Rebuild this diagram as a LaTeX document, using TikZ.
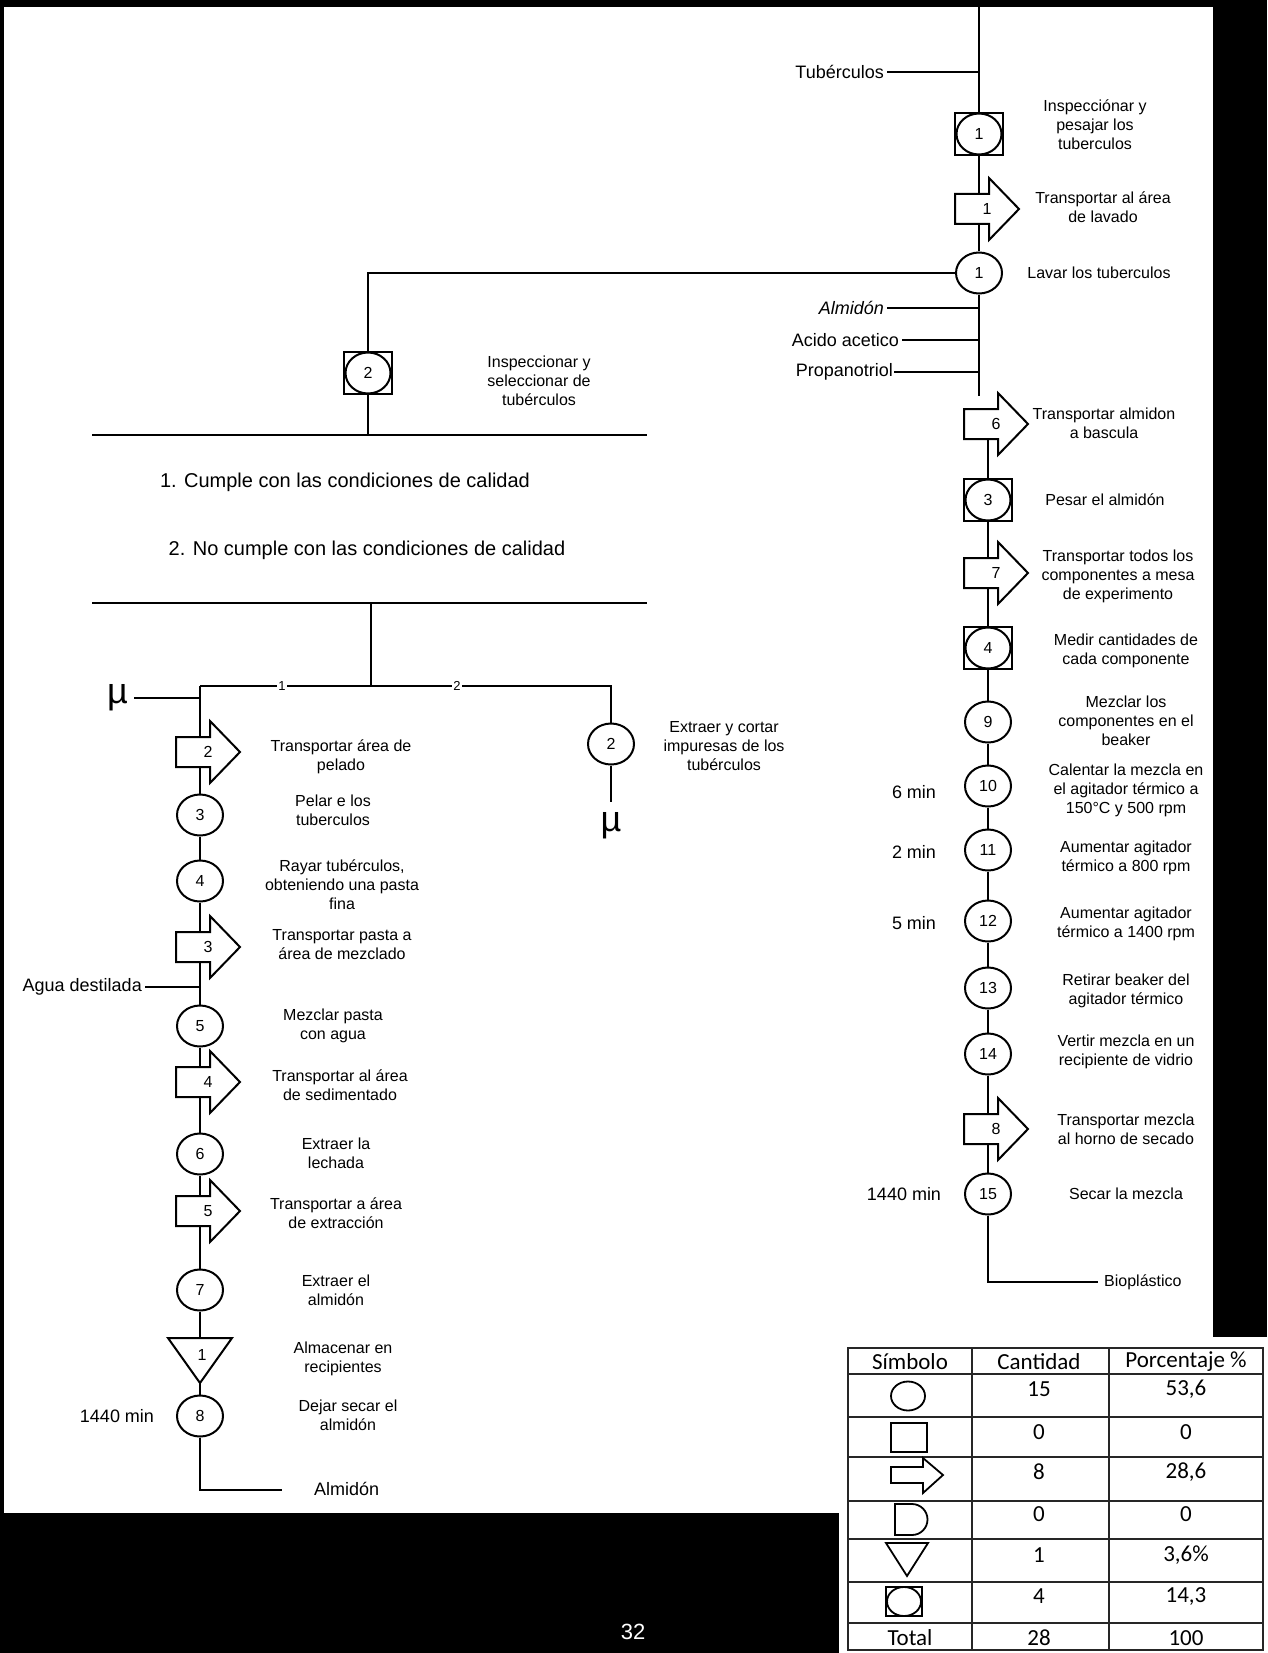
\documentclass[tikz,border=0pt]{standalone}
\usepackage{fontspec}
\setmainfont{Liberation Sans}
\newfontfamily\tablefont{Carlito}
\usetikzlibrary{shapes.geometric}
\tikzset{
  ln/.style={line width=2pt},
  shp/.style={draw, line width=2pt, fill=white, line join=miter},
  opc/.style={ellipse, draw, line width=2pt, fill=white, minimum width=46pt, minimum height=41pt, inner sep=0pt, font=\fontsize{16}{19}\selectfont},
  insq/.style={rectangle, draw, line width=2pt, fill=white, minimum width=48pt, minimum height=42pt, inner sep=0pt},
  desc/.style={align=center, font=\fontsize{16}{19}\selectfont, inner sep=2pt},
  lab/.style={font=\fontsize{18}{21}\selectfont, inner sep=3pt},
  num/.style={font=\fontsize{16}{19}\selectfont, inner sep=0pt},
  brnum/.style={font=\fontsize{13}{15}\selectfont, fill=white, inner sep=1pt},
  big/.style={font=\fontsize{36}{40}\selectfont, inner sep=2pt},
  cond/.style={font=\fontsize{20}{24}\selectfont},
  tbl/.style={font=\tablefont\fontsize{23}{27}\selectfont, inner sep=0pt},
  tline/.style={line width=1.6pt, draw=black!85},
  tsym/.style={line width=1.8pt},
}
\newcommand{\transp}[4]{%
  \draw[shp] ({#2-24},{#3-15}) -- ({#2+10},{#3-15}) -- ({#2+10},{#3-31}) -- ({#2+40},{#3}) -- ({#2+10},{#3+31}) -- ({#2+10},{#3+15}) -- ({#2-24},{#3+15}) -- cycle;
  \node[inner sep=0pt, minimum width=0pt, minimum height=30pt] (#1) at (#2,#3) {};
  \node[num] (#1n) at ({#2+8},{#3}) {#4};
}
\newcommand{\inspop}[4]{%
  \node[insq] (#1) at (#2,#3) {};
  \node[opc, minimum width=45pt, minimum height=41pt] (#1c) at (#1) {#4};
}
\begin{document}
\begin{tikzpicture}[x=1pt,y=-1pt]
\useasboundingbox (0,0) rectangle (1267,1653);
\fill[black] (0,0) rectangle (1267,1653);
\fill[white] (4,7) rectangle (1213,1513);
\fill[white] (839,1337) rectangle (1267,1653);

% ---------------- right column (upper) ----------------
\coordinate (top) at (979,7);
\inspop{s1}{979}{134}{1}
\transp{a1}{979}{209}{1}
\node[opc] (c1) at (979,273) {1};
\coordinate (rend) at (979,396);

\node[lab, anchor=east] (tub) at (887,72) {Tubérculos};
\node[lab, anchor=east] (alm) at (887,308) {\itshape Almidón};
\node[lab, anchor=east] (aac) at (902,340) {Acido acetico};
\node[lab, anchor=east, inner sep=1pt] (pro) at (894,372) {Propanotriol};

\draw[ln] (top) -- (s1.north);
\draw[ln] (s1.south) -- (a1.north);
\draw[ln] (a1.south) -- (c1.north);
\draw[ln] (c1.south) -- (rend);
\draw[ln] (tub.east) -- (tub.east -| c1);
\draw[ln] (alm.east) -- (alm.east -| c1);
\draw[ln] (aac.east) -- (aac.east -| c1);
\draw[ln] (pro.east) -- (pro.east -| c1);

\node[desc] (ts1) at (1095,125) {Inspecciónar y\\pesajar los\\tuberculos};
\node[desc] (ta1) at (1103,207) {Transportar al área\\de lavado};
\node[desc] (tc1) at (1099,273) {Lavar los tuberculos};

% ---------------- right column (lower) ----------------
\transp{a6}{988}{424}{6}
\inspop{s3}{988}{500}{3}
\transp{a7}{988}{573}{7}
\inspop{s4}{988}{648}{4}
\node[opc] (c9) at (988,722) {9};
\node[opc] (c10) at (988,786) {10};
\node[opc] (c11) at (988,850) {11};
\node[opc] (c12) at (988,921) {12};
\node[opc] (c13) at (988,988) {13};
\node[opc] (c14) at (988,1054) {14};
\transp{a8}{988}{1129}{8}
\node[opc] (c15) at (988,1194) {15};
\coordinate (bioc) at (1098,1282);
\node[desc, anchor=west] (bio) at (1102,1282) {Bioplástico};

\draw[ln] (a6.south) -- (s3.north);
\draw[ln] (s3.south) -- (a7.north);
\draw[ln] (a7.south) -- (s4.north);
\draw[ln] (s4.south) -- (c9.north);
\draw[ln] (c9.south) -- (c10.north);
\draw[ln] (c10.south) -- (c11.north);
\draw[ln] (c11.south) -- (c12.north);
\draw[ln] (c12.south) -- (c13.north);
\draw[ln] (c13.south) -- (c14.north);
\draw[ln] (c14.south) -- (a8.north);
\draw[ln] (a8.south) -- (c15.north);
\draw[ln] (c15.south) |- (bioc);

\node[desc] (ta6) at (1104,423) {Transportar almidon\\a bascula};
\node[desc] (ts3) at (1105,500) {Pesar el almidón};
\node[desc] (ta7) at (1118,576) {Transportar todos los\\componentes a mesa\\de experimento};
\node[desc] (ts4) at (1126,651) {Medir cantidades de\\cada componente};
\node[desc] (tc9) at (1126,721) {Mezclar los\\componentes en el\\beaker};
\node[desc] (tc10) at (1126,790) {Calentar la mezcla en\\el agitador térmico a\\150°C y 500 rpm};
\node[desc] (tc11) at (1126,858) {Aumentar agitador\\térmico a 800 rpm};
\node[desc] (tc12) at (1126,924) {Aumentar agitador\\térmico a 1400 rpm};
\node[desc] (tc13) at (1126,991) {Retirar beaker del\\agitador térmico};
\node[desc] (tc14) at (1126,1052) {Vertir mezcla en un\\recipiente de vidrio};
\node[desc] (ta8) at (1126,1129) {Transportar mezcla\\al horno de secado};
\node[desc] (tc15) at (1126,1194) {Secar la mezcla};
\node[lab] (m10) at (914,792) {6 min};
\node[lab] (m11) at (914,852) {2 min};
\node[lab] (m12) at (914,923) {5 min};
\node[lab] (m15) at (904,1194) {1440 min};

% ---------------- middle: inspection and decision ----------------
\inspop{s2}{368}{373}{2}
\coordinate (h1a) at (92,435);
\coordinate (h1b) at (647,435);
\coordinate (h2a) at (92,603);
\coordinate (h2b) at (647,603);
\coordinate (br) at (371,686);
\coordinate (bl) at (200,686);
\coordinate (brr) at (611,686);
\draw[ln] (c1.west) -| (s2.north);
\draw[ln] (s2.south) -- (s2.south |- h1a);
\draw[ln] (h1a) -- (h1b);
\draw[ln] (h2a) -- (h2b);
\draw[ln] (br |- h2a) -- (br);
\node[desc] (ts2) at (539,381) {Inspeccionar y\\seleccionar de\\tubérculos};
\node[cond] (cond1) at (345,482) {1. Cumple con las condiciones de calidad};
\node[cond] (cond2) at (367,550) {2. No cumple con las condiciones de calidad};

\node[opc] (r2) at (611,744) {2};
\node[big] (mu2) at (611,826) {µ};
\draw[ln] (bl) -- (brr) -- (r2.north);
\draw[ln, shorten >=9pt] (r2.south) -- (mu2.north);
\node[brnum] (b1) at (282,686) {1};
\node[brnum] (b2) at (457,686) {2};
\node[desc] (tr2) at (724,746) {Extraer y cortar\\impuresas de los\\tubérculos};

% ---------------- left column ----------------
\node[big, anchor=east, inner sep=6pt] (mu1) at (134,698) {µ};
\draw[ln] (mu1.east) -- (mu1.east -| bl);
\transp{a2}{200}{752}{2}
\node[opc] (c3) at (200,815) {3};
\node[opc] (c4) at (200,881) {4};
\transp{a3}{200}{947}{3}
\node[lab, anchor=east] (agua) at (145,987) {Agua destilada};
\node[opc] (c5) at (200,1026) {5};
\transp{a4}{200}{1082}{4}
\node[opc] (c6) at (200,1154) {6};
\transp{a5}{200}{1211}{5}
\node[opc] (c7) at (200,1290) {7};
\draw[shp] (168,1338) -- (232,1338) -- (200,1383) -- cycle;
\coordinate (trtop) at (200,1338);
\coordinate (trbot) at (200,1383);
\node[num] (tr1) at (202,1355) {1};
\node[opc] (c8) at (200,1416) {8};
\coordinate (almc) at (282,1490);
\node[lab, anchor=west] (almt) at (311,1489) {Almidón};

\draw[ln] (bl) -- (a2.north);
\draw[ln] (a2.south) -- (c3.north);
\draw[ln] (c3.south) -- (c4.north);
\draw[ln] (c4.south) -- (a3.north);
\draw[ln] (a3.south) -- (c5.north);
\draw[ln] (agua.east) -- (agua.east -| c5);
\draw[ln] (c5.south) -- (a4.north);
\draw[ln] (a4.south) -- (c6.north);
\draw[ln] (c6.south) -- (a5.north);
\draw[ln] (a5.south) -- (c7.north);
\draw[ln] (c7.south) -- (trtop);
\draw[ln] (trbot) -- (c8.north);
\draw[ln] (c8.south) |- (almc);

\node[desc] (ta2) at (341,757) {Transportar área de\\pelado};
\node[desc] (tc3) at (333,810) {Pelar e los\\tuberculos};
\node[desc] (tc4) at (342,885) {Rayar tubérculos,\\obteniendo una pasta\\fina};
\node[desc] (ta3) at (342,945) {Transportar pasta a\\área de mezclado};
\node[desc] (tc5) at (333,1026) {Mezclar pasta\\con agua};
\node[desc] (ta4) at (340,1085) {Transportar al área\\de sedimentado};
\node[desc] (tc6) at (336,1153) {Extraer la\\lechada};
\node[desc] (ta5) at (336,1213) {Transportar a área\\de extracción};
\node[desc] (tc7) at (336,1290) {Extraer el\\almidón};
\node[desc] (ttr) at (343,1359) {Almacenar en\\recipientes};
\node[desc] (tc8) at (348,1415) {Dejar secar el\\almidón};
\node[lab] (m8) at (117,1416) {1440 min};

% page number
\node[font=\fontsize{22}{26}\selectfont, text=white] (pg) at (633,1632) {32};

% ---------------- summary table ----------------
\draw[tline] (848,1348) rectangle (1263,1650);
\foreach \xx in {972,1109} \draw[tline] (\xx,1348) -- (\xx,1650);
\foreach \yy in {1374,1417,1457,1501,1539,1582,1623} \draw[tline] (848,\yy) -- (1263,\yy);
\node[tbl] (h1) at (910,1362) {Símbolo};
\node[tbl] (h2) at (1039,1362) {Cantidad};
\node[tbl] (h3) at (1186,1362) {Porcentaje \%};
\draw[tsym] (908,1396) ellipse [x radius=17pt, y radius=14.5pt];
\draw[tsym] (891,1423) rectangle (927,1452);
\draw[tsym] (891,1467) -- (923,1467) -- (923,1458) -- (943,1475) -- (923,1493) -- (923,1483) -- (891,1483) -- cycle;
\draw[tsym] (895,1504) -- (912,1504) arc[start angle=90, end angle=-90, radius=15.5pt] -- (895,1535) -- cycle;
\draw[tsym] (886,1543) -- (928,1543) -- (907,1576) -- cycle;
\draw[tsym] (886,1587) rectangle (922,1616);
\draw[tsym] (904,1601.5) ellipse [x radius=17pt, y radius=14.5pt];
\node[tbl] (v11) at (1039,1389) {15};
\node[tbl] (v12) at (1186,1389) {53,6};
\node[tbl] (v21) at (1039,1432) {0};
\node[tbl] (v22) at (1186,1432) {0};
\node[tbl] (v31) at (1039,1472) {8};
\node[tbl] (v32) at (1186,1472) {28,6};
\node[tbl] (v41) at (1039,1514) {0};
\node[tbl] (v42) at (1186,1514) {0};
\node[tbl] (v51) at (1039,1555) {1};
\node[tbl] (v52) at (1186,1555) {3,6\%};
\node[tbl] (v61) at (1039,1596) {4};
\node[tbl] (v62) at (1186,1596) {14,3};
\node[tbl] (v70) at (910,1638) {Total};
\node[tbl] (v71) at (1039,1638) {28};
\node[tbl] (v72) at (1186,1638) {100};
\end{tikzpicture}
\end{document}
